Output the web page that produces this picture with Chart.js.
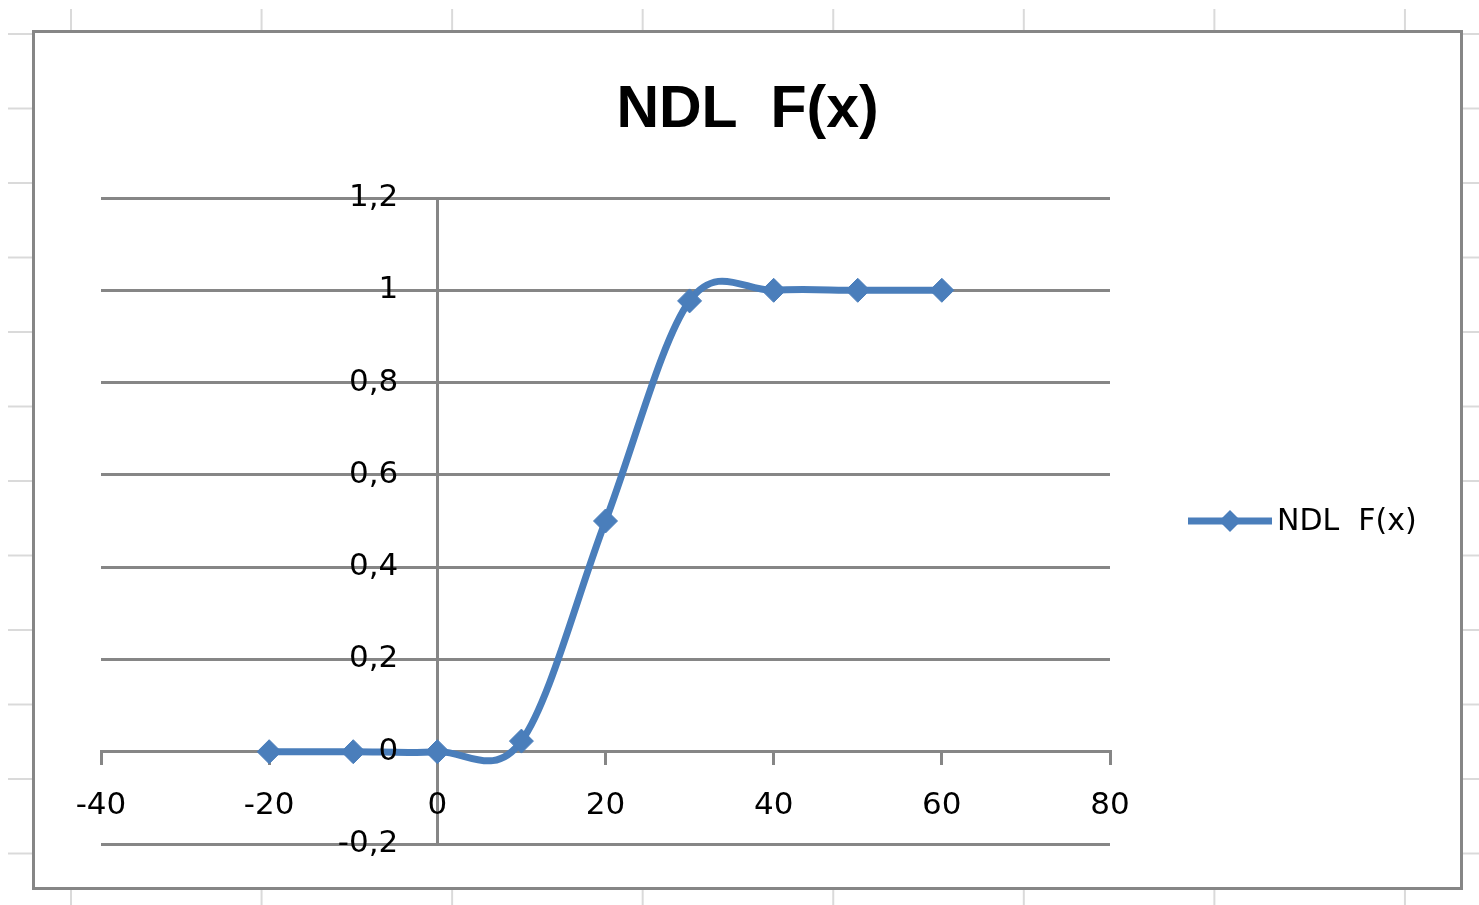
<!DOCTYPE html>
<html>
<head>
<meta charset="utf-8">
<script src="https://cdn.jsdelivr.net/npm/chart.js@4.4.1/dist/chart.umd.min.js"></script>
<style>
  html, body { margin: 0; padding: 0; background: #fff; overflow: hidden; }
  body { width: 1479px; height: 905px; position: relative; }
  .hoja {
    position: absolute; left: 8px; top: 9px; right: 0; bottom: 0;
    background-image:
      linear-gradient(to right, #dadada 0, #dadada 2px, transparent 2px),
      linear-gradient(to bottom, #dadada 0, #dadada 2px, transparent 2px);
    background-size: 190.57px 100%, 100% 74.5px;
    background-position: 62px 0, 0 24px;
  }
  .marco {
    position: absolute; left: 32px; top: 30px;
    width: 1425px; height: 854px;
    border: 3px solid #868686; background: #fff;
  }
  canvas { display: block; }
</style>
</head>
<body>
<div class="hoja"></div>
<div class="marco"><canvas id="grafico" width="1425" height="854"></canvas></div>
<script>
// datos de la grafica
const titulo = 'NDL  F(x)';
const serieNombre = 'NDL  F(x)';
const valoresX = [-20, -10, 0, 10, 20, 30, 40, 50, 60];
const valoresF = [0, 0, 0, 0.023, 0.5, 0.977, 1, 1, 1];
const ejeX = { min: -40, max: 80, paso: 20 };
const ejeY = { min: -0.2, max: 1.2, paso: 0.2 };

const azul = '#4a7ebb';
const gris = '#868686';

// suavizado tipo Excel (Catmull-Rom sobre los puntos que ya calculo Chart.js)
const suavizado = {
    id: 'suavizado',
    beforeDatasetsDraw(chart) {
        chart.getSortedVisibleDatasetMetas().forEach(meta => {
            const linea = meta.dataset;
            if (!linea) return;
            linea.updateControlPoints(chart.chartArea, 'x');
            const pts = meta.data;
            for (let i = 0; i < pts.length; i++) {
                const p = pts[i];
                const ant = pts[i - 1] || p;
                const sig = pts[i + 1] || p;
                const dx = (sig.x - ant.x) / 6;
                const dy = (sig.y - ant.y) / 6;
                p.cp1x = p.x - dx; p.cp1y = p.y - dy;
                p.cp2x = p.x + dx; p.cp2y = p.y + dy;
            }
            linea._path = undefined;
        });
    }
};

// titulo centrado en todo el grafico y leyenda a la derecha, como en Excel
const textos = {
    id: 'textos',
    afterDraw(chart) {
        const ctx = chart.ctx;
        const area = chart.chartArea;
        ctx.save();
        // titulo
        ctx.fillStyle = '#000';
        ctx.font = 'bold 59px "Liberation Sans"';
        ctx.textAlign = 'center';
        ctx.textBaseline = 'alphabetic';
        ctx.fillText(titulo, chart.width / 2, 94);

        // leyenda
        const y = (area.top + area.bottom) / 2;
        const x0 = area.right + 78;
        ctx.strokeStyle = azul;
        ctx.fillStyle = azul;
        ctx.lineWidth = 7;
        ctx.beginPath();
        ctx.moveTo(x0, y);
        ctx.lineTo(x0 + 84, y);
        ctx.stroke();
        const cx = x0 + 42, r = 11;
        ctx.beginPath();
        ctx.moveTo(cx, y - r);
        ctx.lineTo(cx + r, y);
        ctx.lineTo(cx, y + r);
        ctx.lineTo(cx - r, y);
        ctx.closePath();
        ctx.fill();
        ctx.fillStyle = '#000';
        ctx.font = '30px "DejaVu Sans"';
        ctx.textBaseline = 'middle';
        ctx.textAlign = 'left';
        ctx.fillText(serieNombre, x0 + 89, y + 1);
        ctx.restore();
    }
};

const ctx = document.getElementById('grafico').getContext('2d');
new Chart(ctx, {
    type: 'line',
    data: {
        datasets: [{
            label: serieNombre,
            data: valoresX.map((x, i) => ({ x: x, y: valoresF[i] })),
            borderColor: azul,
            backgroundColor: azul,
            borderWidth: 7,
            tension: 0.4,
            fill: false,
            pointStyle: 'rectRot',
            pointRadius: 12,
            pointBackgroundColor: azul,
            pointBorderColor: azul,
            pointBorderWidth: 1
        }]
    },
    options: {
        responsive: false,
        animation: false,
        layout: {
            padding: { left: 66, right: 350, top: 165, bottom: 43 }
        },
        plugins: {
            legend: { display: false },
            tooltip: { enabled: false },
            title: { display: false }
        },
        scales: {
            x: {
                type: 'linear',
                position: { y: 0 },
                min: ejeX.min,
                max: ejeX.max,
                ticks: {
                    stepSize: ejeX.paso,
                    color: '#000',
                    font: { family: '"DejaVu Sans"', size: 31 },
                    padding: 24,
                    maxRotation: 0
                },
                grid: {
                    color: c => (c.tick && c.tick.value === 0) ? gris : 'rgba(0,0,0,0)',
                    lineWidth: 3,
                    tickColor: gris,
                    tickWidth: 3,
                    tickLength: 12
                },
                border: { color: gris, width: 3 }
            },
            y: {
                type: 'linear',
                position: { x: -4.64 },
                min: ejeY.min,
                max: ejeY.max,
                ticks: {
                    stepSize: ejeY.paso,
                    color: '#000',
                    font: { family: '"DejaVu Sans"', size: 31 },
                    padding: 0,
                    z: 1,
                    callback: v => String(Math.round(v * 10) / 10).replace('.', ',')
                },
                grid: {
                    color: gris,
                    lineWidth: 3,
                    drawTicks: false
                },
                border: { display: false }
            }
        }
    },
    plugins: [suavizado, textos]
});
</script>
</body>
</html>
